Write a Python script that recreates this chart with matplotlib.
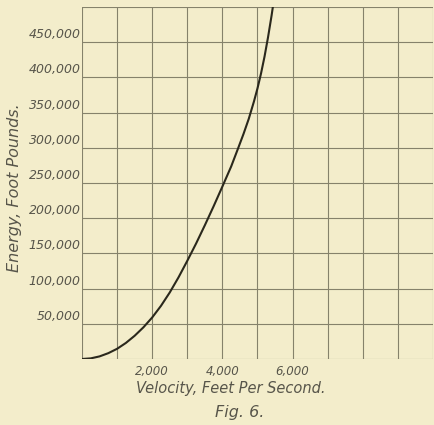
import matplotlib
matplotlib.use("Agg")
import matplotlib.pyplot as plt

# Data
velocity = [0, 250, 500, 750, 1000, 1250, 1500, 1750, 2000, 2250, 2500, 2750, 3000,
            3250, 3500, 3750, 4000, 4250, 4453, 4600, 4750, 4900, 5000, 5100,
            5200, 5300, 5400, 5470]
energy = [0, 900, 3700, 8300, 14500, 22800, 33000, 45000, 59000, 75500, 94500, 116000, 139500,
          164000, 190000, 217000, 245000, 273500, 300000, 319500, 341000, 366000, 384500, 405500,
          429500, 457000, 487500, 511000]

ytick_vals = [50000, 100000, 150000, 200000, 250000, 300000, 350000, 400000, 450000]
ytick_labels = ["50,000", "100,000", "150,000", "200,000", "250,000", "300,000",
                "350,000", "400,000", "450,000"]
xtick_vals = [2000, 4000, 6000]
xtick_labels = ["2,000", "4,000", "6,000"]

bg = "#f3edcb"
gridc = "#85826b"
inkc = "#57554a"

fig = plt.figure(figsize=(4.35, 4.25), dpi=100, facecolor=bg)
ax = fig.add_axes([82/435, 1 - 359/425, 351/435, 352/425], facecolor=bg)
ax.set_xlim(0, 10000)
ax.set_ylim(0, 500000)

for v in range(0, 10001, 1000):
    ax.axvline(v, color=gridc, lw=0.8, zorder=1)
for e in range(0, 500001, 50000):
    ax.axhline(e, color=gridc, lw=0.8, zorder=1)
for s in ax.spines.values():
    s.set_visible(False)

ax.plot(velocity, energy, color="#2a281c", lw=1.5, zorder=3,
        solid_capstyle="round", solid_joinstyle="round")

ax.set_xticks([])
ax.set_yticks([])

font = dict(family="DejaVu Sans", style="italic", color=inkc)
for val, lab in zip(ytick_vals, ytick_labels):
    ax.text(-40, val + 1500, lab, ha="right", va="bottom", fontsize=9, **font)
for val, lab in zip(xtick_vals, xtick_labels):
    ax.text(val, -9000, lab, ha="center", va="top", fontsize=8.5, **font)

fig.text(231/435, 1 - 388/425, "Velocity, Feet Per Second.", ha="center", va="center",
         fontsize=10.5, **font)
fig.text(240/435, 1 - 412/425, "Fig. 6.", ha="center", va="center",
         fontsize=11.5, **font)
fig.text(15/435, 1 - 188/425, "Energy, Foot Pounds.", ha="center", va="center", rotation=90,
         fontsize=11.5, **font)

fig.savefig("out.png", dpi=100, facecolor=bg)
